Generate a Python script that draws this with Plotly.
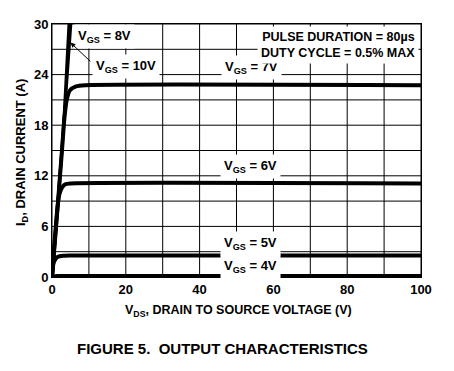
import plotly.graph_objects as go

# ---- data ----
vds_4v = [0, 0.5, 1.5, 100]
id_4v = [0, 0.08, 0.12, 0.12]

vds_5v = [0, 0.15, 0.4, 0.9, 1.6, 3.0, 4.8, 100]
id_5v = [0, 0.8, 1.6, 2.1, 2.4, 2.52, 2.55, 2.55]

vds_6v = [0, 0.5, 1.0, 1.5, 2.0, 2.7, 3.6, 5.0, 100]
id_6v = [0, 3.0, 5.8, 8.3, 9.8, 10.6, 11.0, 11.1, 11.1]

vds_7v = [0, 1, 2, 2.7, 3.4, 4.0, 4.8, 6.5, 9, 100]
id_7v = [0, 5.4, 11.0, 15.0, 19.0, 21.0, 22.1, 22.6, 22.75, 22.75]

vds_8v = [0, 1, 2, 2.7, 3.5, 4.3, 5.1]
id_8v = [0, 5.4, 11.0, 15.0, 20.0, 25.0, 30.0]

vds_10v = [0, 1, 2, 2.7, 3.4, 4.0, 4.6]
id_10v = [0, 5.6, 11.4, 15.3, 20.0, 25.0, 30.0]

curves = [(vds_4v, id_4v, 4), (vds_5v, id_5v, 4), (vds_6v, id_6v, 4),
          (vds_7v, id_7v, 4), (vds_8v, id_8v, 3), (vds_10v, id_10v, 3)]

x_tickvals = [0, 10, 20, 30, 40, 50, 60, 70, 80, 90, 100]
x_ticktext = ["0", "", "20", "", "40", "", "60", "", "80", "", "100"]
y_tickvals = [0, 3, 6, 9, 12, 15, 18, 21, 24, 27, 30]
y_ticktext = ["0", "", "6", "", "12", "", "18", "", "24", "", "30"]

labels = [  # text, x, y
    ("V<sub>GS</sub> = 8V", 14.3, 28.5),
    ("V<sub>GS</sub> = 10V", 20.0, 25.0),
    ("V<sub>GS</sub> = 7V", 54.0, 24.8),
    ("V<sub>GS</sub> = 6V", 53.8, 13.1),
    ("V<sub>GS</sub> = 5V", 53.9, 4.0),
    ("V<sub>GS</sub> = 4V", 53.9, 1.27),
]

FONT = "Liberation Sans, Arial, sans-serif"


def b(t):
    return "<b>" + t + "</b>" if t else ""


fig = go.Figure()

# grid drawn as one line trace built from the tick positions
gx, gy = [], []
for xv in x_tickvals:
    gx += [xv, xv, None]
    gy += [y_tickvals[0], y_tickvals[-1], None]
for yv in y_tickvals:
    gx += [x_tickvals[0], x_tickvals[-1], None]
    gy += [yv, yv, None]
fig.add_trace(go.Scatter(x=gx, y=gy, mode="lines", line=dict(color="black", width=1),
                         showlegend=False, hoverinfo="skip", cliponaxis=False))

for xs, ys, w in curves:
    fig.add_trace(go.Scatter(x=xs, y=ys, mode="lines",
                             line=dict(color="black", width=w, shape="spline", smoothing=0.6),
                             showlegend=False, hoverinfo="skip"))

for txt, x, y in labels:
    fig.add_annotation(x=x, y=y, xref="x", yref="y", text=b(txt), showarrow=False,
                       bgcolor="white", borderpad=3,
                       font=dict(family=FONT, size=13, color="black"))

# arrow for VGS = 10V
fig.add_annotation(x=5.0, y=27.8, xref="x", yref="y", ax=10.8, ay=25.4, axref="x", ayref="y",
                   text="", showarrow=True, arrowhead=2, arrowsize=1, arrowwidth=1, arrowcolor="black")

fig.add_annotation(xref="paper", yref="paper", x=0.995, y=0.994, xanchor="right", yanchor="top",
                   text=b("PULSE DURATION = 80µs<br>DUTY CYCLE = 0.5% MAX"), align="right",
                   showarrow=False, bgcolor="white", borderpad=3,
                   font=dict(family=FONT, size=12.5, color="black"))

fig.add_annotation(xref="paper", yref="paper", x=-0.084, y=0.49, xanchor="center", yanchor="middle",
                   textangle=-90, text=b("I<sub>D</sub>, DRAIN CURRENT (A)"), showarrow=False,
                   font=dict(family=FONT, size=13, color="black"))
fig.add_annotation(xref="paper", yref="paper", x=0.505, y=-0.134, xanchor="center", yanchor="middle",
                   text=b("V<sub>DS</sub>, DRAIN TO SOURCE VOLTAGE (V)"), showarrow=False,
                   font=dict(family=FONT, size=12.5, color="black"))
fig.add_annotation(xref="paper", yref="paper", x=0.462, y=-0.281, xanchor="center", yanchor="middle",
                   text=b("FIGURE 5.  OUTPUT CHARACTERISTICS"), showarrow=False,
                   font=dict(family=FONT, size=15, color="black"))

axis_common = dict(showline=True, mirror=True, linecolor="black", linewidth=1,
                   showgrid=False, zeroline=False,
                   tickfont=dict(family=FONT, size=13, color="black"))
fig.update_xaxes(range=[0, 100], tickvals=x_tickvals, ticktext=[b(t) for t in x_ticktext], **axis_common)
fig.update_yaxes(range=[0, 30], tickvals=y_tickvals, ticktext=[b(t) for t in y_ticktext], **axis_common)

fig.update_layout(width=454, height=371, margin=dict(l=52, r=33, t=24, b=94),
                  paper_bgcolor="white", plot_bgcolor="white",
                  font=dict(family=FONT, color="black"))

fig.write_html("out.html", config={"displayModeBar": False},
               post_script="document.body.style.margin='0';")
